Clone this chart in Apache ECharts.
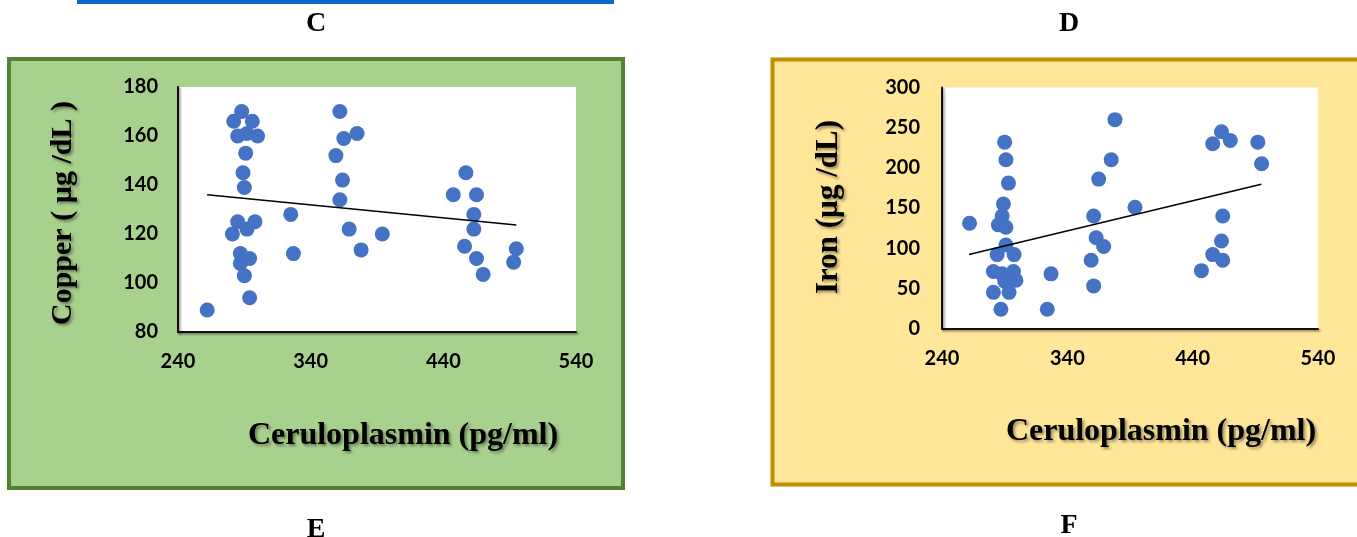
<!DOCTYPE html>
<html>
<head>
<meta charset="utf-8">
<script src="https://cdn.jsdelivr.net/npm/echarts@6/dist/echarts.min.js"></script>
<style>
html,body{margin:0;padding:0;background:#fff;}
#chart{width:1357px;height:537px;}
</style>
</head>
<body>
<div id="chart"></div>
<script>
// ---- data ----
const xTicks = [240, 340, 440, 540];
const copperX = [288,282,296,285,292,300,291,289,290,285,298,292,281,287,294,287,290,294,262,325,327,362,365,375,359,364,362,369,378,394,457,447.5,465,463,463,456,465,470,495,493];
const copperY = [170,166,166,160,161,160,153,145,139,125,125,122,120,112,110,108,103,94,89,128,112,170,159,161,152,142,134,122,113.5,120,145,136,136,128,122,115,110,103.5,114,108.5];
const ironX = [262,290,291,293,289,288,285,291,291,284,297.5,281,288,297,299,290,281,293.5,287,327,324,378,375,365,394,361,363,369,359,361,463,456,470,492,495,464,463,456,464,447];
const ironY = [131,232,210,181,155,140,129,126,104,92,92,71,68,71,60,59,45,45,24,68,24,260,210,186,151,140,113,102,85,53,245,230,234,232,205,140,109,92,85,72];
const copperTrendX = [262, 495];
const copperTrendY = [136, 123.7];
const ironTrendX = [261.5, 494.8];
const ironTrendY = [92, 179.6];

const pairs = (xs, ys) => xs.map((x, i) => [x, ys[i]]);

const chart = echarts.init(document.getElementById('chart'), null, {renderer: 'canvas'});

const labelStyle = {color: '#000', fontFamily: 'Lato', fontWeight: 'bold', fontSize: 20};
const axisLineStyle = {color: '#111', width: 2, shadowColor: 'rgba(0,0,0,0.45)', shadowBlur: 2, shadowOffsetX: 1.5, shadowOffsetY: 1.5};
const titleFont = 'bold 32px "Liberation Serif"';
const shadowTxt = {textShadowColor: 'rgba(0,0,0,0.4)', textShadowBlur: 3, textShadowOffsetX: 2, textShadowOffsetY: 2};

function txt(text, x, y, font, rot) {
  return {
    type: 'text', x: x, y: y, rotation: rot || 0, z: 100,
    style: Object.assign({text: text, font: font, fill: '#000', align: 'center', verticalAlign: 'middle'}, shadowTxt)
  };
}

const option = {
  animation: false,
  backgroundColor: '#fff',
  graphic: [
    {type: 'rect', z: -10, shape: {x: 77, y: 0, width: 537, height: 4}, style: {fill: '#0866C5'}},
    {type: 'rect', z: -10, shape: {x: 9, y: 59, width: 614, height: 429}, style: {fill: '#A9D18E', stroke: '#548235', lineWidth: 4}},
    {type: 'rect', z: -10, shape: {x: 772.5, y: 59.5, width: 700, height: 425}, style: {fill: '#FFE699', stroke: '#BF9000', lineWidth: 4}},
    {type: 'rect', z: -9, shape: {x: 178, y: 87, width: 398, height: 245}, style: {fill: '#fff'}},
    {type: 'rect', z: -9, shape: {x: 942, y: 87.5, width: 376, height: 241}, style: {fill: '#fff'}},
    {type: 'text', x: 316, y: 24, z: 100, style: {text: 'C', font: 'bold 28px "Liberation Serif"', fill: '#000', align: 'center', verticalAlign: 'middle'}},
    {type: 'text', x: 1069, y: 24, z: 100, style: {text: 'D', font: 'bold 28px "Liberation Serif"', fill: '#000', align: 'center', verticalAlign: 'middle'}},
    {type: 'text', x: 316, y: 530, z: 100, style: {text: 'E', font: 'bold 28px "Liberation Serif"', fill: '#000', align: 'center', verticalAlign: 'middle'}},
    {type: 'text', x: 1069, y: 526, z: 100, style: {text: 'F', font: 'bold 28px "Liberation Serif"', fill: '#000', align: 'center', verticalAlign: 'middle'}},
    txt('Ceruloplasmin (pg/ml)', 403, 436, titleFont),
    txt('Ceruloplasmin (pg/ml)', 1161, 432, titleFont),
    txt('Copper ( µg /dL )', 63, 213, 'bold 30px "Liberation Serif"', Math.PI / 2),
    txt('Iron (µg /dL)', 829, 207, 'bold 31px "Liberation Serif"', Math.PI / 2)
  ],
  grid: [
    {left: 178, top: 87, width: 398, height: 245, show: false},
    {left: 942, top: 87.5, width: 376, height: 241, show: false}
  ],
  xAxis: [0, 1].map(i => ({
    type: 'value', gridIndex: i, min: xTicks[0], max: xTicks[xTicks.length - 1],
    axisLine: {show: true, onZero: false, lineStyle: axisLineStyle},
    axisTick: {show: false}, splitLine: {show: false},
    axisLabel: Object.assign({customValues: xTicks, margin: 20, showMinLabel: true, showMaxLabel: true}, labelStyle)
  })),
  yAxis: [
    {type: 'value', gridIndex: 0, min: 80, max: 180, interval: 20,
     axisLine: {show: true, onZero: false, lineStyle: axisLineStyle},
     axisTick: {show: false}, splitLine: {show: false},
     axisLabel: Object.assign({margin: 20}, labelStyle)},
    {type: 'value', gridIndex: 1, min: 0, max: 300, interval: 50,
     axisLine: {show: true, onZero: false, lineStyle: axisLineStyle},
     axisTick: {show: false}, splitLine: {show: false},
     axisLabel: Object.assign({margin: 22}, labelStyle)}
  ],
  series: [
    {type: 'scatter', xAxisIndex: 0, yAxisIndex: 0, data: pairs(copperX, copperY), symbolSize: 15, itemStyle: {color: '#4472C4', opacity: 1}},
    {type: 'scatter', xAxisIndex: 1, yAxisIndex: 1, data: pairs(ironX, ironY), symbolSize: 15, itemStyle: {color: '#4472C4', opacity: 1}},
    {type: 'line', xAxisIndex: 0, yAxisIndex: 0, data: pairs(copperTrendX, copperTrendY), symbol: 'none', z: 3, lineStyle: {color: '#000', width: 1.5}},
    {type: 'line', xAxisIndex: 1, yAxisIndex: 1, data: pairs(ironTrendX, ironTrendY), symbol: 'none', z: 3, lineStyle: {color: '#000', width: 1.5}}
  ]
};
chart.setOption(option);
</script>
</body>
</html>
